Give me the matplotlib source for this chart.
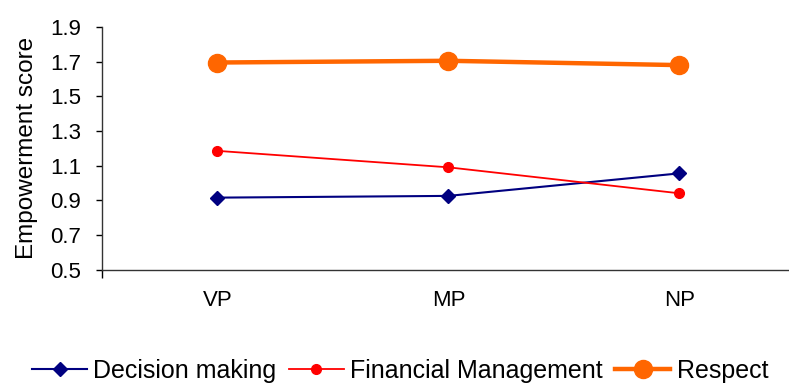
import matplotlib
matplotlib.use("Agg")
import matplotlib.pyplot as plt

categories = ["VP", "MP", "NP"]
decision_making = [0.915, 0.925, 1.055]
financial_mgmt = [1.185, 1.09, 0.94]
respect = [1.695, 1.705, 1.68]
yticks = [0.5, 0.7, 0.9, 1.1, 1.3, 1.5, 1.7, 1.9]

plt.rcParams["font.family"] = ["Liberation Sans", "DejaVu Sans"]

fig = plt.figure(figsize=(7.89, 3.83), dpi=100)
ax = fig.add_axes([0.1293, 0.2963, 0.878, 0.6332])

x = range(len(categories))
ax.plot(x, decision_making, color="#000080", lw=1.5, marker="D", ms=7,
        label="Decision making")
ax.plot(x, financial_mgmt, color="#FF0000", lw=1.3, marker="o", ms=7,
        label="Financial Management")
ax.plot(x, respect, color="#FF6600", lw=3.2, marker="o", ms=13,
        label="Respect")

ax.set_xlim(-0.5, 2.5)
ax.set_ylim(0.5, 1.9)
ax.set_yticks(yticks)
ax.set_yticklabels([f"{v:.1f}" for v in yticks], fontsize=16)
ax.set_xticks(list(x))
ax.set_xticklabels(categories, fontsize=16)
ax.tick_params(axis="x", length=0, pad=15)
ax.tick_params(axis="y", length=4.5, width=1, pad=10.5)
ax.set_xticks([-0.5], minor=True)
ax.tick_params(axis="x", which="minor", length=6, width=1)
ax.set_ylabel("Empowerment score", fontsize=17.5, labelpad=9)

for s in ["top", "right"]:
    ax.spines[s].set_visible(False)
for s in ["left", "bottom"]:
    ax.spines[s].set_color("#333333")
    ax.spines[s].set_linewidth(1)

fig.legend(loc="center", bbox_to_anchor=(0.507, 0.032), ncol=3, frameon=False,
           fontsize=18, handlelength=2.2, handletextpad=0.25, columnspacing=0.5)

fig.savefig("out.png", dpi=100)
